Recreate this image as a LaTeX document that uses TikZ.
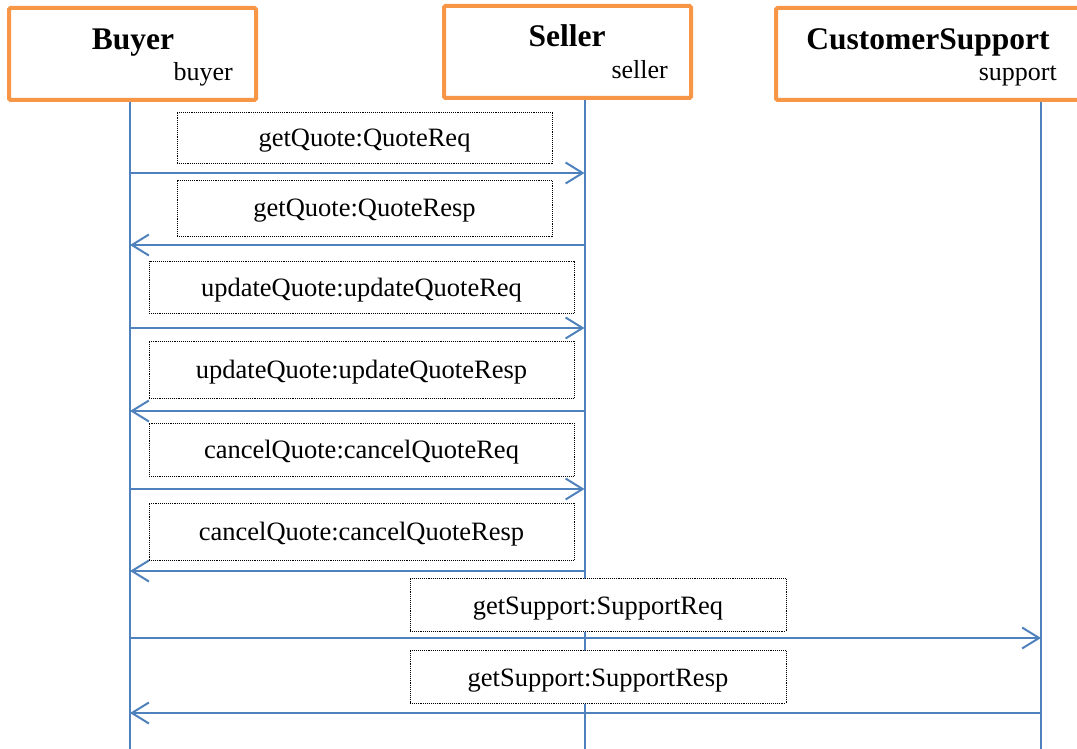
\documentclass[tikz,border=0pt]{standalone}
\usepackage{fontspec}
\setmainfont{Liberation Serif}
\usetikzlibrary{arrows.meta}
\definecolor{lineblue}{HTML}{4F81BD}
\definecolor{boxorange}{HTML}{F79646}
\tikzset{
  header/.style={draw=boxorange, line width=4pt, rounded corners=1.5pt, fill=white, inner sep=0pt},
  title/.style={font=\fontsize{31.5}{34}\selectfont\bfseries, inner sep=0pt, anchor=base},
  role/.style={font=\fontsize{26}{30}\selectfont, inner sep=0pt, anchor=base east},
  life/.style={draw=lineblue, line width=2pt},
  msgbox/.style={draw=black, densely dotted, line width=0.9pt, fill=white, minimum width=375pt, minimum height=52pt, inner sep=0pt, text height=18pt, text depth=0pt, font=\fontsize{26.5}{30}\selectfont},
  msg/.style={draw=lineblue, line width=2pt, -{Straight Barb[length=17pt,width=21pt,line width=2pt]}},
}
\begin{document}
\begin{tikzpicture}[x=1pt,y=-1pt]
\useasboundingbox (0,0) rectangle (1077,749);
\begin{scope}
\clip (0,0) rectangle (1077,749);
% lifeline ends
\coordinate (bT) at (130,100);
\coordinate (bB) at (130,749);
\coordinate (sT) at (584.5,98);
\coordinate (sB) at (584.5,749);
\coordinate (cT) at (1041,100);
\coordinate (cB) at (1041,749);
\draw[life] (bT) -- (bB);
\draw[life] (sT) -- (sB);
\draw[life] (cT) -- (cB);
% headers
\node[header, minimum width=247pt, minimum height=92pt] (buyer) at (132.5,54) {};
\node[header, minimum width=247pt, minimum height=92pt] (seller) at (567.5,52) {};
\node[header, minimum width=320pt, minimum height=92pt] (support) at (936,54) {};
\node[title] (buyerT) at (133,50) {Buyer};
\node[role] (buyerR) at (233,81) {buyer};
\node[title] (sellerT) at (567,47) {Seller};
\node[role] (sellerR) at (668,79) {seller};
\node[title] (supportT) at (928,50) {CustomerSupport};
\node[role] (supportR) at (1057,81) {support};
% message labels
\node[msgbox, minimum width=375pt, minimum height=51pt] (m1) at (364.5,137.5) {getQuote:QuoteReq};
\node[msgbox, minimum width=375pt, minimum height=56pt] (m2) at (364.5,208) {getQuote:QuoteResp};
\node[msgbox, minimum width=425pt, minimum height=52pt] (m3) at (361.5,287) {updateQuote:updateQuoteReq};
\node[msgbox, minimum width=425pt, minimum height=57pt] (m4) at (361.5,369.5) {updateQuote:updateQuoteResp};
\node[msgbox, minimum width=425pt, minimum height=53pt] (m5) at (361.5,449.5) {cancelQuote:cancelQuoteReq};
\node[msgbox, minimum width=425pt, minimum height=57pt] (m6) at (361.5,531.5) {cancelQuote:cancelQuoteResp};
\node[msgbox, minimum width=376pt, minimum height=53pt] (m7) at (598,605) {getSupport:SupportReq};
\node[msgbox, minimum width=376pt, minimum height=53pt] (m8) at (598,677) {getSupport:SupportResp};
% messages
\draw[msg] (bB |- 0,173) -- (sB |- 0,173);
\draw[msg] (sB |- 0,245) -- (bB |- 0,245);
\draw[msg] (bB |- 0,328) -- (sB |- 0,328);
\draw[msg] (sB |- 0,411) -- (bB |- 0,411);
\draw[msg] (bB |- 0,489) -- (sB |- 0,489);
\draw[msg] (sB |- 0,571) -- (bB |- 0,571);
\draw[msg] (bB |- 0,638) -- (cB |- 0,638);
\draw[msg] (cB |- 0,713) -- (bB |- 0,713);
\end{scope}
\end{tikzpicture}
\end{document}
